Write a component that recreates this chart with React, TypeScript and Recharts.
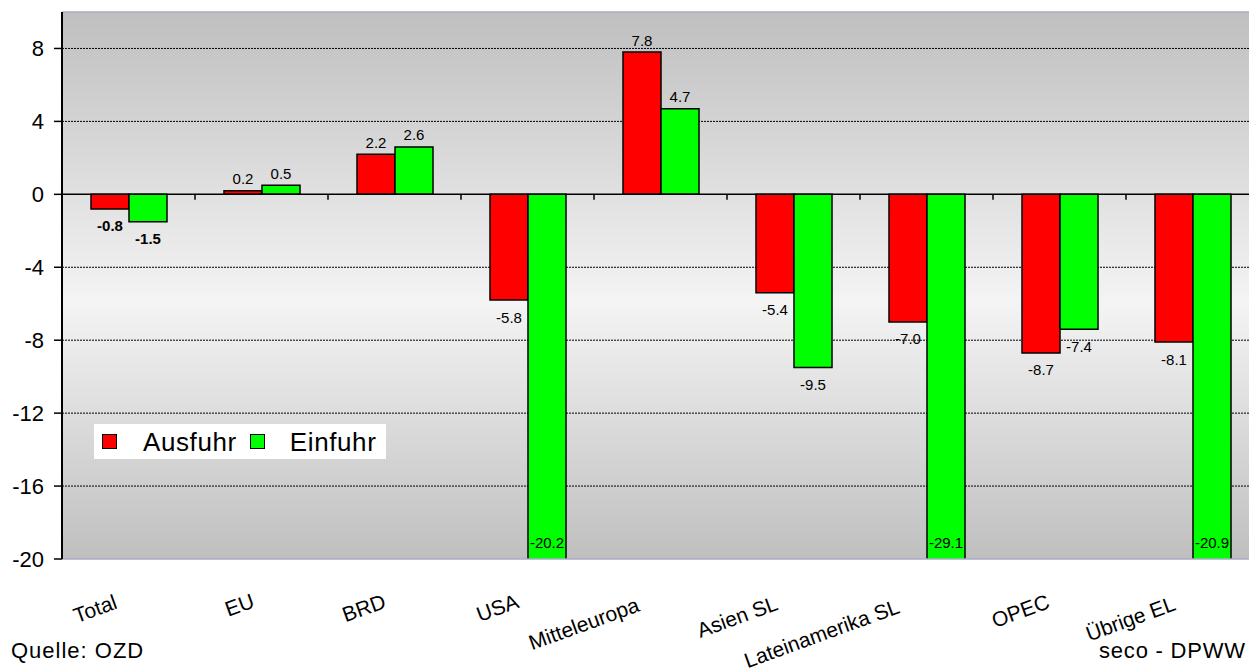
import { BarChart, Bar, XAxis, YAxis, CartesianGrid, ReferenceLine, LabelList, Legend } from 'recharts';

const categories = ['Total', 'EU', 'BRD', 'USA', 'Mitteleuropa', 'Asien SL', 'Lateinamerika SL', 'OPEC', 'Übrige EL'];
const ausfuhr = [-0.8, 0.2, 2.2, -5.8, 7.8, -5.4, -7.0, -8.7, -8.1];
const einfuhr = [-1.5, 0.5, 2.6, -20.2, 4.7, -9.5, -29.1, -7.4, -20.9];
const yTicks = [-20, -16, -12, -8, -4, 0, 4, 8];
const yDomain: [number, number] = [-20, 10];

const data = categories.map((name, i) => ({ name, idx: i + 0.5, ausfuhr: ausfuhr[i], einfuhr: einfuhr[i] }));
// category boundaries, where the small tick marks sit on the zero line
const boundaries = categories.slice(1).map((_, i) => i + 1);

const FONT = '"Liberation Sans", Arial, sans-serif';

function valueLabel(props: any) {
  const { x, y, width, height, value, index } = props;
  const v = Number(value);
  const top = Math.min(y, y + height);
  const bot = Math.max(y, y + height);
  const cx = x + width / 2;
  let ty: number;
  if (v >= 0) {
    ty = top - 12;
  } else {
    // bar rect runs from zero line (top) down to value (bot)
    const ppu = (bot - top) / -v;
    const floor = top + -yDomain[0] * ppu;
    ty = v < yDomain[0] ? floor - 17 : bot + 17;
  }
  return (
    <text x={cx} y={ty} textAnchor="middle" dominantBaseline="central" fontSize={15}
      fontWeight={index === 0 ? 'bold' : 'normal'} fill="#000">
      {v.toFixed(1)}
    </text>
  );
}

function CategoryTick(props: any) {
  const { x, y, payload } = props;
  const label = String(payload.value);
  const n = label.length;
  const ax = x - (3 + 1.4 * n);
  const ay = y + 47 + 0.4 * n;
  return (
    <text x={ax} y={ay} textAnchor="end" fontSize={21} fill="#000" transform={`rotate(-20 ${ax} ${ay})`}>
      {label}
    </text>
  );
}

function LegendBox() {
  const sq = (color: string) => (
    <span style={{ display: 'inline-block', width: 13, height: 13, background: color, border: '1.5px solid #000' }} />
  );
  return (
    <div style={{ background: '#fff', height: 35, width: 292, display: 'flex', alignItems: 'center', fontSize: 26, color: '#000', lineHeight: 1, boxSizing: 'border-box', paddingLeft: 8 }}>
      {sq('#ff0000')}
      <span style={{ marginLeft: 26, marginRight: 13, letterSpacing: 0.6 }}>Ausfuhr</span>
      {sq('#00ff00')}
      <span style={{ marginLeft: 25, letterSpacing: 0.6 }}>Einfuhr</span>
    </div>
  );
}

export default function App() {
  return (
    <div style={{ position: 'absolute', left: 0, top: 0, width: 1249, height: 672, overflow: 'hidden', background: '#fff', fontFamily: FONT }}>
      <BarChart width={1270} height={672} data={data} margin={{ top: 12, right: 11, bottom: 0, left: 0 }} barSize={38} barGap={0}>
        <defs>
          <linearGradient id="plotBg" x1="0" y1="0" x2="0" y2="1">
            <stop offset="0%" stopColor="#bfbfbf" />
            <stop offset="53%" stopColor="#f4f4f4" />
            <stop offset="100%" stopColor="#bfbfbf" />
          </linearGradient>
        </defs>
        <CartesianGrid vertical={false} stroke="#000" strokeDasharray="2 1" fill="url(#plotBg)" fillOpacity={1}
          horizontalValues={yTicks.filter(t => t !== 0 && t !== yDomain[0])} />
        <XAxis dataKey="name" interval={0} axisLine={false} tickLine={false} tickSize={0} tickMargin={0} height={113} tick={<CategoryTick />} />
        <XAxis xAxisId="n" type="number" dataKey="idx" domain={[0, categories.length]} allowDataOverflow hide />
        <YAxis domain={yDomain} ticks={yTicks} allowDataOverflow width={62} interval={0}
          axisLine={{ stroke: '#000', strokeWidth: 2 }} tickLine={{ stroke: '#000', strokeWidth: 1.5 }}
          tickSize={8} tickMargin={10} tick={{ fill: '#000', fontSize: 22 }} />
        <ReferenceLine y={10} stroke="#a9acc6" strokeWidth={1.5} />
        <ReferenceLine y={yDomain[0]} stroke="#a9acc6" strokeWidth={1.5} />
        <Legend verticalAlign="middle" align="center" layout="horizontal"
          wrapperStyle={{ left: 94, top: 424, width: 292, height: 35 }} content={() => <LegendBox />} />
        <Bar dataKey="ausfuhr" name="Ausfuhr" fill="#ff0000" stroke="#000" strokeWidth={1.5} isAnimationActive={false}>
          <LabelList dataKey="ausfuhr" content={valueLabel} />
        </Bar>
        <Bar dataKey="einfuhr" name="Einfuhr" fill="#00ff00" stroke="#000" strokeWidth={1.5} isAnimationActive={false}>
          <LabelList dataKey="einfuhr" content={valueLabel} />
        </Bar>
        <ReferenceLine y={0} stroke="#000" strokeWidth={1.5} />
        {boundaries.map(b => (
          <ReferenceLine key={b} xAxisId="n" segment={[{ x: b, y: 0 }, { x: b, y: -0.3 }]} stroke="#000" strokeWidth={1.5} />
        ))}
      </BarChart>
      <div style={{ position: 'absolute', left: 11, top: 640, fontSize: 22, letterSpacing: 1, lineHeight: '22px', color: '#000' }}>Quelle: OZD</div>
      <div style={{ position: 'absolute', left: 1099, top: 640, fontSize: 22, letterSpacing: 0.8, lineHeight: '22px', color: '#000', whiteSpace: 'nowrap' }}>seco - DPWW</div>
    </div>
  );
}
